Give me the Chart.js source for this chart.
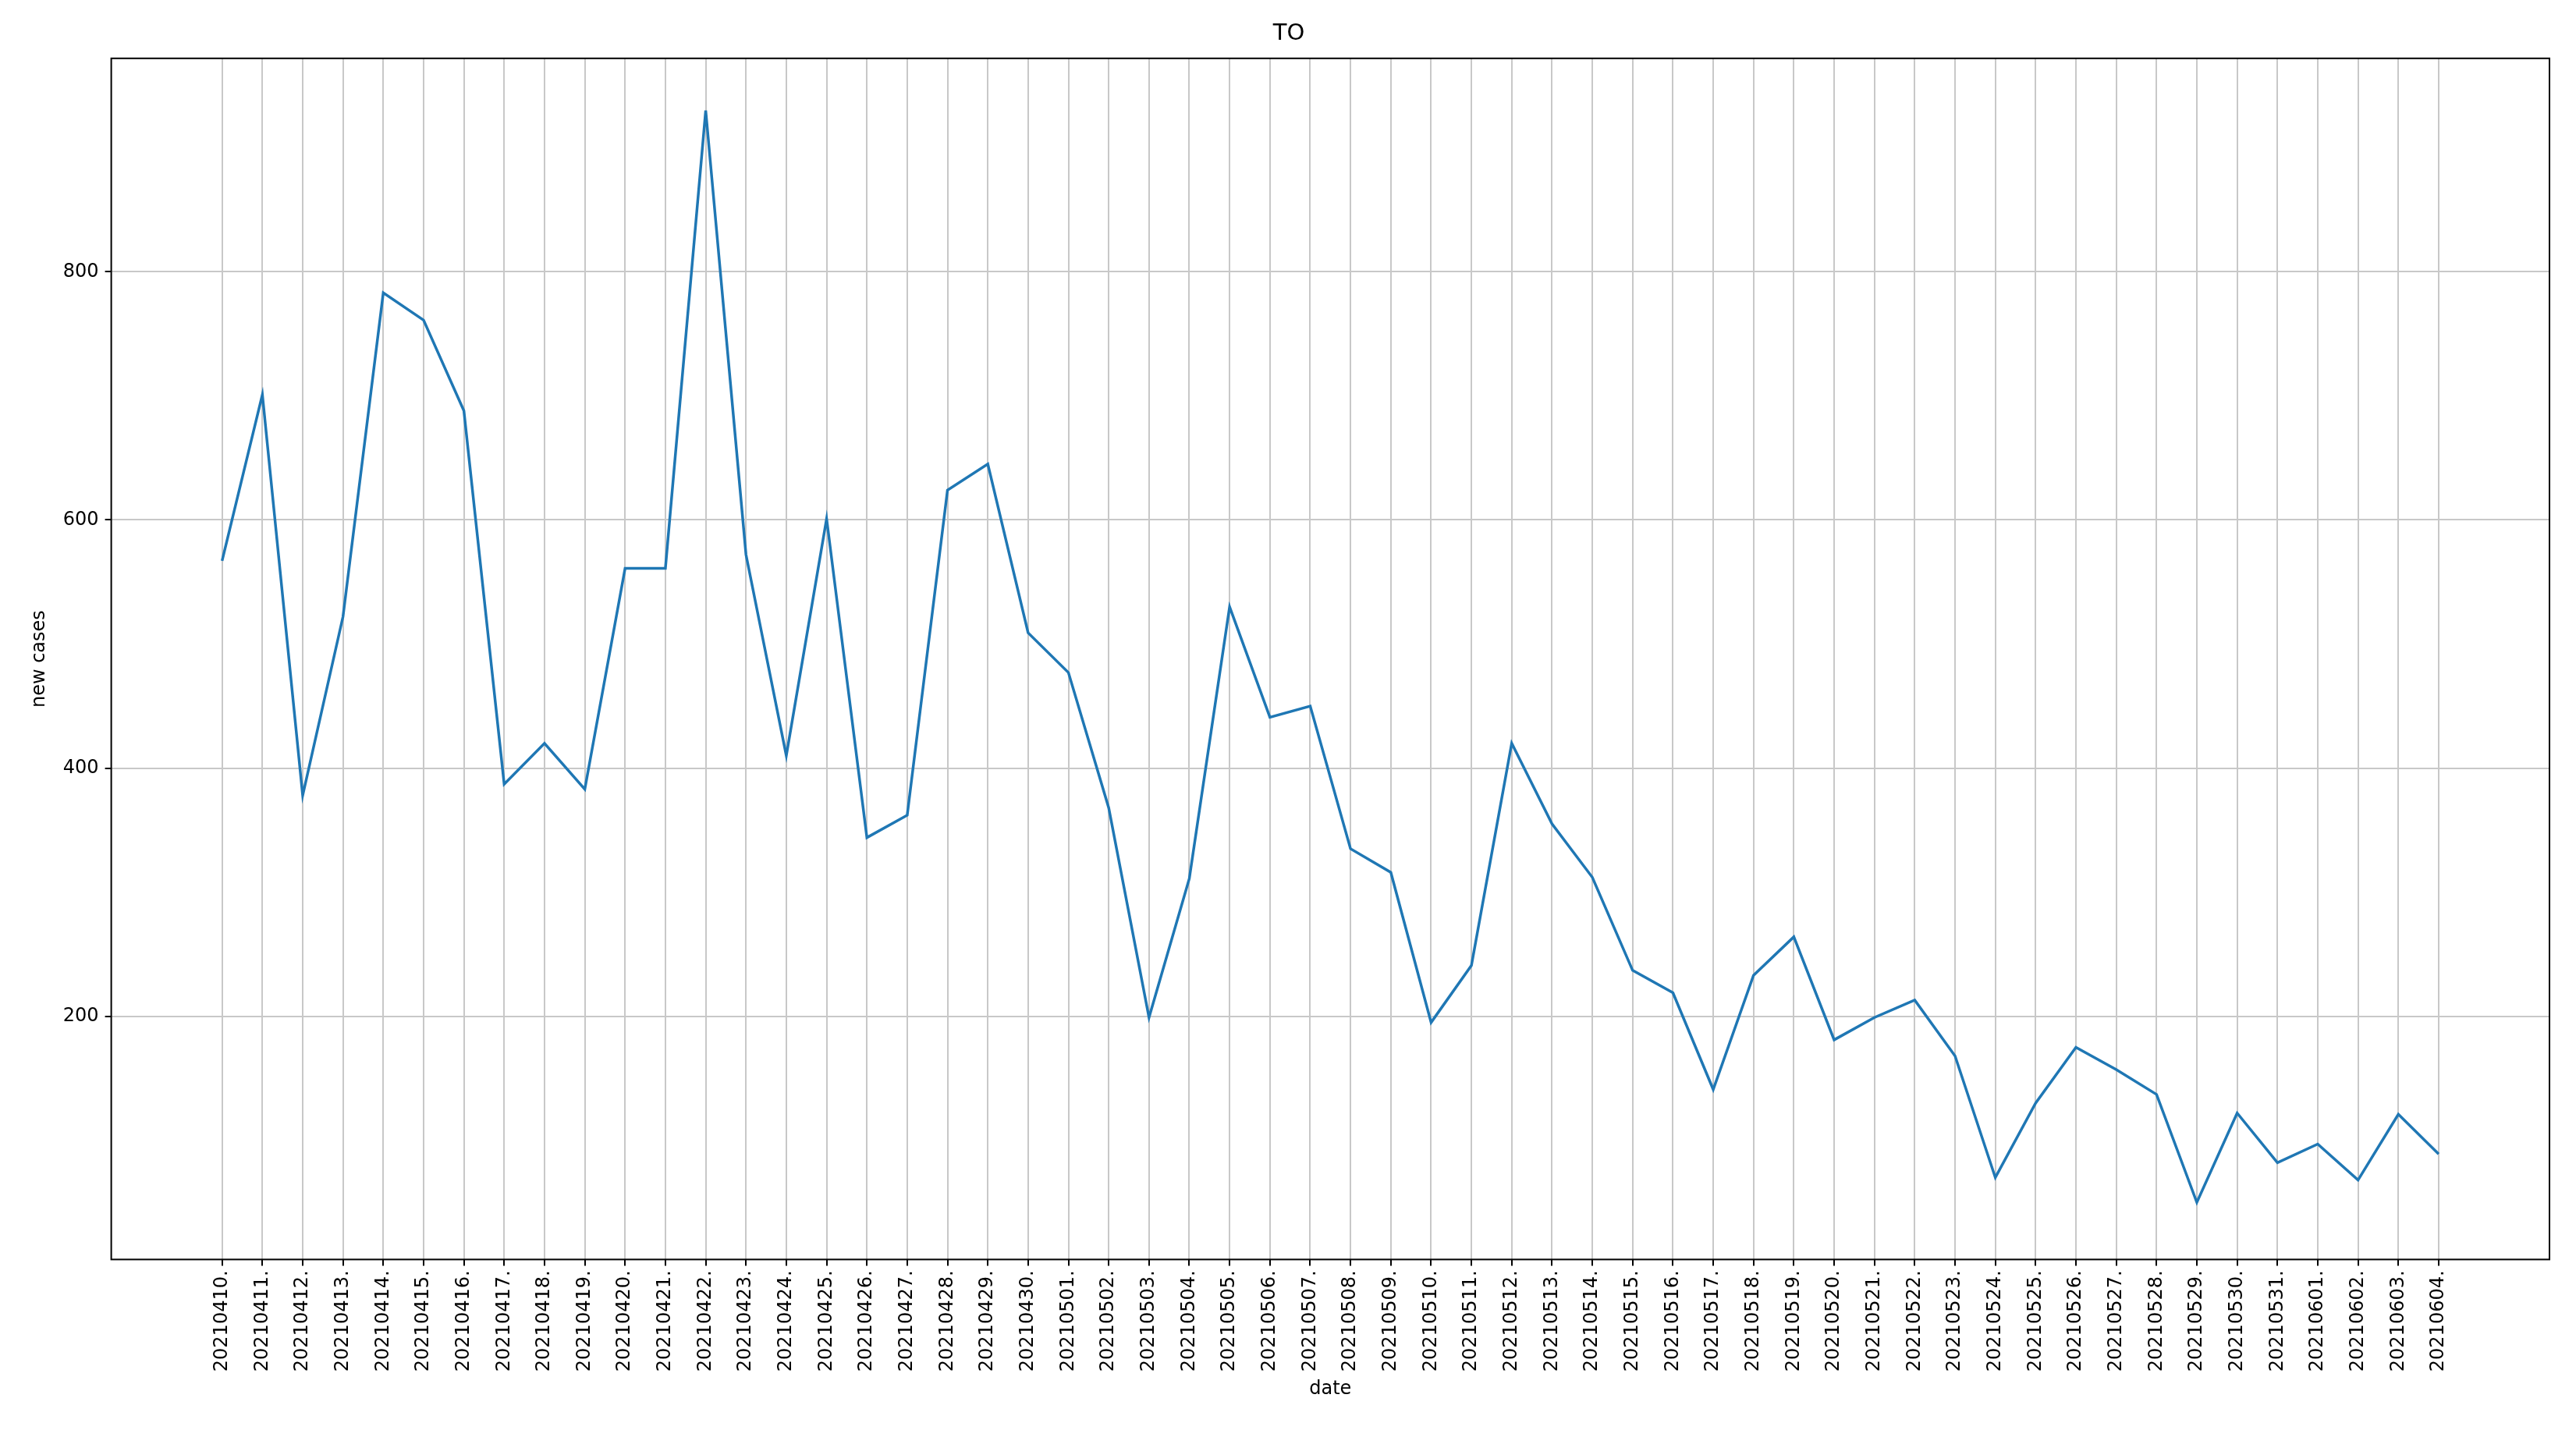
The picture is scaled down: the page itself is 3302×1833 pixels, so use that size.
<!DOCTYPE html>
<html>
<head>
<meta charset="utf-8">
<script src="https://cdn.jsdelivr.net/npm/chart.js@4"></script>
<style>
  html, body { margin: 0; padding: 0; background: #fff; }
  #wrap { width: 3302px; height: 1833px; }
</style>
</head>
<body>
<div id="wrap"><canvas id="c"></canvas></div>
<script>
// dates as shown on the x axis
const dates = [
  '20210410.', '20210411.', '20210412.', '20210413.', '20210414.', '20210415.', '20210416.',
  '20210417.', '20210418.', '20210419.', '20210420.', '20210421.', '20210422.', '20210423.',
  '20210424.', '20210425.', '20210426.', '20210427.', '20210428.', '20210429.', '20210430.',
  '20210501.', '20210502.', '20210503.', '20210504.', '20210505.', '20210506.', '20210507.',
  '20210508.', '20210509.', '20210510.', '20210511.', '20210512.', '20210513.', '20210514.',
  '20210515.', '20210516.', '20210517.', '20210518.', '20210519.', '20210520.', '20210521.',
  '20210522.', '20210523.', '20210524.', '20210525.', '20210526.', '20210527.', '20210528.',
  '20210529.', '20210530.', '20210531.', '20210601.', '20210602.', '20210603.', '20210604.'
];

// new cases
const newCases = [
  567, 701, 378, 522, 783, 761, 688,
  387, 420, 383, 561, 561, 930, 572,
  410, 601, 344, 362, 624, 645, 509,
  477, 368, 199, 311, 530, 441, 450,
  335, 316, 195, 241, 420, 355, 312,
  237, 219, 141, 233, 264, 181, 199,
  213, 168, 70, 130, 175, 157, 137,
  50, 122, 82, 97, 68, 121, 89
];

const yTicks = [200, 400, 600, 800];

// frame around the plot area, like matplotlib's spines
const frame = {
  id: 'frame',
  afterDraw(chart) {
    const a = chart.chartArea, ctx = chart.ctx;
    ctx.save();
    ctx.strokeStyle = '#000';
    ctx.lineWidth = 2;
    ctx.strokeRect(a.left, a.top, a.right - a.left, a.bottom - a.top);
    ctx.restore();
  }
};

const font = { family: 'DejaVu Sans', size: 24 };

new Chart(document.getElementById('c'), {
  type: 'line',
  data: {
    datasets: [{
      data: newCases.map((v, i) => ({ x: i, y: v })),
      borderColor: '#1f77b4',
      borderWidth: 3.5,
      pointRadius: 0,
      tension: 0
    }]
  },
  options: {
    responsive: true,
    maintainAspectRatio: false,
    animation: false,
    layout: { padding: { left: 36, right: 34, top: 0, bottom: 38 } },
    plugins: {
      legend: { display: false },
      tooltip: { enabled: false },
      title: {
        display: true, text: 'TO', color: '#000',
        font: { family: 'DejaVu Sans', size: 29, weight: 'normal' },
        padding: { top: 26, bottom: 14 }
      }
    },
    scales: {
      x: {
        type: 'linear',
        min: -2.75, max: 57.75,
        afterBuildTicks: s => { s.ticks = dates.map((d, i) => ({ value: i })); },
        ticks: {
          callback: v => dates[v],
          maxRotation: 90, minRotation: 90, autoSkip: false,
          color: '#000', font, padding: 6
        },
        grid: { color: '#c8c8c8', lineWidth: 2, drawTicks: true, tickLength: 8, tickColor: '#000' },
        border: { display: false },
        title: { display: true, text: 'date', color: '#000', font: { family: 'DejaVu Sans', size: 24 }, padding: { top: 2, bottom: 0 } }
      },
      y: {
        min: 4, max: 972,
        afterBuildTicks: s => { s.ticks = yTicks.map(v => ({ value: v })); },
        ticks: { color: '#000', font, padding: 8 },
        grid: { color: '#c8c8c8', lineWidth: 2, tickLength: 8, tickColor: '#000' },
        border: { display: false },
        title: { display: true, text: 'new cases', color: '#000', font: { family: 'DejaVu Sans', size: 24 }, padding: { top: 0, bottom: 8 } }
      }
    }
  },
  plugins: [frame]
});
</script>
</body>
</html>
